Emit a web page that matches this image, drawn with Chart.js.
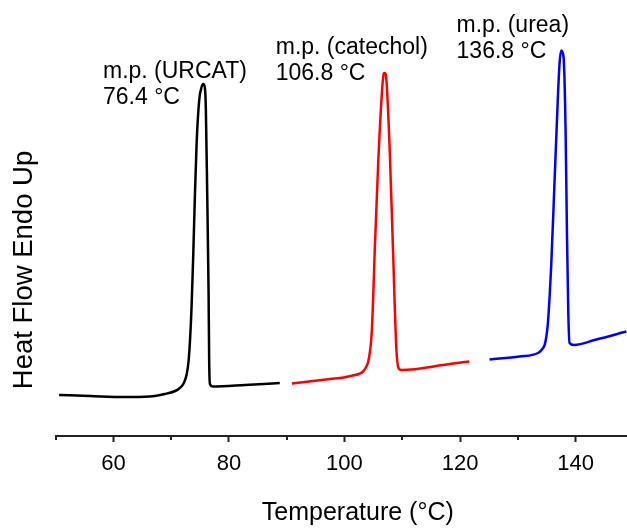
<!DOCTYPE html>
<html><head><meta charset="utf-8">
<script src="https://cdn.jsdelivr.net/npm/chart.js@4.4.1/dist/chart.umd.min.js"></script>
<style>html,body{margin:0;padding:0;background:#fff;}#wrap{width:627px;height:529px;}</style>
</head><body><div id="wrap"><canvas id="c" width="627" height="529"></canvas></div>
<script>
// ---- data (temperature in °C, heat flow in arbitrary units) ----
const urcatTemp = [50.6, 56.0, 61.8, 66.3, 68.9, 70.7, 71.5, 72.2, 72.7, 73.0, 73.25, 73.54, 73.82, 74.11, 74.41, 74.86, 75.27, 75.55, 75.84, 76.01, 76.24, 76.48, 76.58, 76.71, 77.22, 82.8, 88.8];
const urcatHeat = [4.1, 4.0, 3.9, 3.95, 4.2, 4.5, 4.8, 5.3, 6.2, 7.4, 9.4, 13.0, 18.0, 24.0, 29.3, 33.6, 34.9, 35.2, 34.8, 32.6, 24.3, 14.3, 7.6, 5.2, 4.95, 5.1, 5.3];

const catecholTemp = [90.9, 97.5, 99.9, 101.8, 102.5, 103.2, 103.7, 104.1, 104.4, 104.7, 104.95, 105.24, 105.81, 106.4, 106.8, 106.97, 107.26, 107.83, 108.4, 108.99, 109.39, 109.86, 118.2, 121.6];
const catecholHeat = [5.26, 5.7, 5.85, 6.1, 6.2, 6.45, 6.85, 7.4, 8.4, 10.2, 13.5, 18.6, 26.9, 33.6, 36.25, 36.3, 35.6, 28.6, 18.6, 8.6, 6.75, 6.6, 7.2, 7.45];

const ureaTemp = [125.1, 130.3, 133.5, 134.1, 134.64, 134.9, 135.21, 135.8, 136.37, 136.94, 137.23, 137.53, 137.92, 138.27, 138.5, 138.74, 138.96, 139.71, 143.6, 148.8];
const ureaHeat = [7.65, 7.95, 8.3, 8.6, 9.1, 9.8, 11.3, 17.3, 25.6, 33.9, 37.3, 38.55, 37.9, 30.6, 20.6, 12.3, 9.3, 9.1, 9.65, 10.45];

const seriesNames = ['URCAT', 'catechol', 'urea'];
const meltLabels = [['m.p. (URCAT)', '76.4 °C'], ['m.p. (catechol)', '106.8 °C'], ['m.p. (urea)', '136.8 °C']];
const xTickValues = [50, 60, 70, 80, 90, 100, 110, 120, 130, 140];
const xLabeledTicks = [60, 80, 100, 120, 140];
const xTitle = 'Temperature (°C)';
const yTitle = 'Heat Flow Endo Up';

// ---- presentation ----
const FONT = '"Liberation Sans", Arial, sans-serif';
const colors = ['#000000', '#ff0000', '#0000ff'];
const labelAnchors = [{t: 58.2, h: 35.8}, {t: 88.1, h: 38.2}, {t: 119.4, h: 40.4}];

const toPts = (xs, ys) => xs.map((v, i) => ({x: v, y: ys[i]}));
const allTemps = [urcatTemp, catecholTemp, ureaTemp];
const allHeats = [urcatHeat, catecholHeat, ureaHeat];

const textPlugin = {
  id: 'texts',
  afterDraw(chart) {
    const {ctx, scales: {x, y}, chartArea} = chart;
    ctx.save();
    // minor ticks
    ctx.strokeStyle = '#222';
    ctx.lineWidth = 2;
    xTickValues.filter(v => !xLabeledTicks.includes(v)).forEach(v => {
      const px = Math.round(x.getPixelForValue(v));
      ctx.beginPath();
      ctx.moveTo(px, chartArea.bottom);
      ctx.lineTo(px, chartArea.bottom + 4);
      ctx.stroke();
    });
    // melting point labels
    ctx.fillStyle = '#000';
    ctx.textAlign = 'left';
    ctx.textBaseline = 'alphabetic';
    ctx.font = '23px ' + FONT;
    meltLabels.forEach((lines, i) => {
      const px = x.getPixelForValue(labelAnchors[i].t);
      const py = y.getPixelForValue(labelAnchors[i].h);
      ctx.fillText(lines[0], px, py);
      ctx.fillText(lines[1], px, py + 26);
    });
    // axis titles
    ctx.font = '25px ' + FONT;
    ctx.textAlign = 'center';
    ctx.fillText(xTitle, x.getPixelForValue(102.3), 520);
    ctx.translate(32, 270);
    ctx.rotate(-Math.PI / 2);
    ctx.font = '27.5px ' + FONT;
    ctx.fillText(yTitle, 0, 0);
    ctx.restore();
  }
};

new Chart(document.getElementById('c'), {
  type: 'line',
  data: {
    datasets: seriesNames.map((n, i) => ({
      label: n,
      data: toPts(allTemps[i], allHeats[i]),
      borderColor: colors[i],
      backgroundColor: colors[i],
      borderWidth: 2.5,
      pointRadius: 0,
      cubicInterpolationMode: 'monotone',
      fill: false,
      clip: false
    }))
  },
  options: {
    responsive: false,
    animation: false,
    devicePixelRatio: 1,
    layout: {padding: {left: 55.6, right: 0, top: 10, bottom: 0}},
    plugins: {legend: {display: false}, tooltip: {enabled: false}},
    scales: {
      x: {
        type: 'linear',
        min: 50,
        max: 148.9,
        afterBuildTicks: (s) => { s.ticks = xTickValues.map(v => ({value: v})); },
        afterFit: (s) => { s.height = 93; },
        grid: {
          display: true,
          drawOnChartArea: false,
          drawTicks: true,
          tickLength: 6,
          tickWidth: 2,
          tickColor: (c) => (c.tick && xLabeledTicks.includes(c.tick.value)) ? '#222' : 'rgba(0,0,0,0)'
        },
        border: {display: true, color: '#222', width: 2},
        ticks: {
          padding: 9,
          autoSkip: false,
          maxRotation: 0,
          color: '#000',
          font: {family: FONT, size: 22},
          callback: (v) => xLabeledTicks.includes(v) ? String(v) : ''
        }
      },
      y: {
        display: false,
        min: 0,
        max: 42.6
      }
    }
  },
  plugins: [textPlugin]
});
</script>
</body></html>
